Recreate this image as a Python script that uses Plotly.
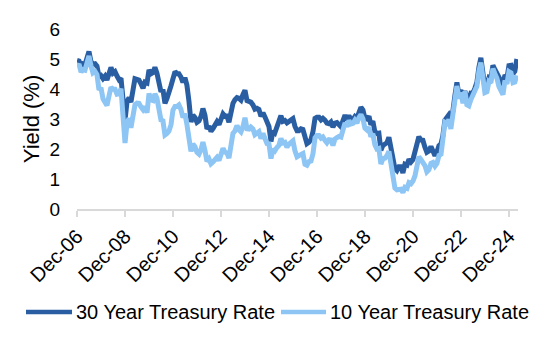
import plotly.graph_objects as go
import pandas as pd

# Monthly values, Dec 2006 .. Apr 2025
start = "2006-12-01"
y30 = [
    4.95,
    4.93, 4.75, 4.84, 4.81, 5.01, 5.25, 4.92, 4.83, 4.84, 4.76, 4.41, 4.45,   # 2007
    4.35, 4.43, 4.30, 4.49, 4.72, 4.53, 4.58, 4.43, 4.31, 4.36, 3.45, 2.95,   # 2008
    3.59, 3.71, 3.56, 4.05, 4.34, 4.32, 4.30, 4.17, 4.03, 4.23, 4.20, 4.64,   # 2009
    4.51, 4.55, 4.72, 4.53, 4.22, 3.91, 3.99, 3.52, 3.69, 3.99, 4.11, 4.34,   # 2010
    4.58, 4.51, 4.51, 4.40, 4.22, 4.38, 4.13, 3.60, 2.90, 3.13, 3.05, 2.89,   # 2011
    2.94, 3.09, 3.35, 3.12, 2.67, 2.76, 2.59, 2.68, 2.82, 2.91, 2.81, 2.95,   # 2012
    3.17, 3.09, 3.10, 2.89, 3.31, 3.52, 3.64, 3.71, 3.69, 3.63, 3.82, 3.96,   # 2013
    3.61, 3.59, 3.56, 3.47, 3.33, 3.36, 3.32, 3.09, 3.21, 3.07, 2.89, 2.75,   # 2014
    2.25, 2.60, 2.54, 2.75, 2.88, 3.11, 2.92, 2.95, 2.87, 2.93, 3.00, 3.01,   # 2015
    2.75, 2.61, 2.61, 2.67, 2.65, 2.30, 2.18, 2.23, 2.32, 2.58, 3.02, 3.06,   # 2016
    3.06, 2.97, 3.02, 2.96, 2.86, 2.84, 2.90, 2.73, 2.86, 2.88, 2.83, 2.74,   # 2017
    2.95, 3.13, 2.97, 3.11, 3.00, 2.98, 3.08, 3.02, 3.21, 3.39, 3.30, 3.02,   # 2018
    3.00, 3.09, 2.81, 2.93, 2.58, 2.52, 2.53, 1.96, 2.12, 2.18, 2.21, 2.39,   # 2019
    1.99, 1.65, 1.35, 1.28, 1.41, 1.41, 1.20, 1.49, 1.46, 1.66, 1.57, 1.65,   # 2020
    1.87, 2.17, 2.41, 2.30, 2.29, 2.06, 1.89, 1.93, 2.08, 1.93, 1.78, 1.90,   # 2021
    2.11, 2.17, 2.44, 2.96, 3.07, 3.14, 3.01, 3.27, 3.79, 4.22, 3.80, 3.97,   # 2022
    3.65, 3.93, 3.67, 3.68, 3.86, 3.85, 4.02, 4.22, 4.73, 5.04, 4.54, 4.03,   # 2023
    4.17, 4.38, 4.34, 4.79, 4.65, 4.51, 4.36, 4.20, 4.14, 4.47, 4.36, 4.78,   # 2024
    4.79, 4.51, 4.59, 5.00,                                                   # 2025
]
y10 = [
    4.75,
    4.83, 4.56, 4.65, 4.63, 4.89, 5.10, 4.78, 4.54, 4.59, 4.48, 3.97, 4.04,   # 2007
    3.67, 3.53, 3.45, 3.77, 4.06, 3.99, 3.99, 3.83, 3.85, 4.01, 2.93, 2.20,   # 2008
    2.87, 3.02, 2.71, 3.16, 3.47, 3.53, 3.52, 3.40, 3.31, 3.41, 3.21, 3.85,   # 2009
    3.63, 3.61, 3.84, 3.69, 3.31, 2.97, 2.94, 2.47, 2.52, 2.60, 2.81, 3.30,   # 2010
    3.42, 3.42, 3.47, 3.32, 3.05, 3.18, 2.82, 2.23, 1.92, 2.17, 2.08, 1.89,   # 2011
    1.83, 1.98, 2.23, 1.95, 1.59, 1.67, 1.51, 1.57, 1.65, 1.72, 1.62, 1.78,   # 2012
    2.02, 1.89, 1.87, 1.70, 2.16, 2.52, 2.60, 2.78, 2.64, 2.57, 2.75, 3.04,   # 2013
    2.67, 2.66, 2.73, 2.67, 2.48, 2.53, 2.58, 2.35, 2.52, 2.35, 2.18, 2.17,   # 2014
    1.68, 2.00, 1.94, 2.05, 2.12, 2.35, 2.20, 2.22, 2.06, 2.16, 2.21, 2.27,   # 2015
    1.94, 1.74, 1.78, 1.83, 1.85, 1.49, 1.46, 1.58, 1.60, 1.84, 2.37, 2.45,   # 2016
    2.45, 2.36, 2.40, 2.29, 2.21, 2.31, 2.30, 2.12, 2.33, 2.38, 2.42, 2.40,   # 2017
    2.72, 2.87, 2.74, 2.95, 2.83, 2.85, 2.96, 2.86, 3.05, 3.15, 3.01, 2.69,   # 2018
    2.63, 2.73, 2.41, 2.51, 2.14, 2.00, 2.02, 1.50, 1.68, 1.69, 1.78, 1.92,   # 2019
    1.51, 1.13, 0.70, 0.64, 0.65, 0.66, 0.55, 0.72, 0.69, 0.88, 0.84, 0.93,   # 2020
    1.11, 1.44, 1.74, 1.65, 1.58, 1.45, 1.24, 1.31, 1.52, 1.55, 1.43, 1.52,   # 2021
    1.79, 1.83, 2.32, 2.89, 2.85, 2.98, 2.67, 3.15, 3.83, 4.10, 3.68, 3.88,   # 2022
    3.52, 3.92, 3.48, 3.44, 3.64, 3.81, 3.97, 4.09, 4.59, 4.88, 4.37, 3.88,   # 2023
    3.91, 4.25, 4.20, 4.68, 4.51, 4.36, 4.09, 3.91, 3.81, 4.28, 4.17, 4.58,   # 2024
    4.54, 4.21, 4.23, 4.45,                                                   # 2025
]
dates = pd.date_range(start, periods=len(y30), freq="MS")

tick_vals = ["2006-12-01", "2008-12-01", "2010-12-01", "2012-12-01", "2014-12-01",
             "2016-12-01", "2018-12-01", "2020-12-01", "2022-12-01", "2024-12-01"]
tick_text = ["Dec-06", "Dec-08", "Dec-10", "Dec-12", "Dec-14",
             "Dec-16", "Dec-18", "Dec-20", "Dec-22", "Dec-24"]
series_names = ["30 Year Treasury Rate", "10 Year Treasury Rate"]
colors = ["#2A5EA3", "#8DC5F4"]

FONT = "Liberation Sans, Arial, sans-serif"
L, R, T, B = 77, 518, 29, 209
W, H = R - L, B - T

fig = go.Figure()
fig.add_trace(go.Scatter(x=dates, y=y30, mode="lines", name=series_names[0],
                         line=dict(color=colors[0], width=5), showlegend=False))
fig.add_trace(go.Scatter(x=dates, y=y10, mode="lines", name=series_names[1],
                         line=dict(color=colors[1], width=5), showlegend=False))

# manual legend
leg = [(26, 72, 74), (281, 326, 328)]
ly = 312
for (x0, x1, xt), name, c in zip(leg, series_names, colors):
    fig.add_shape(type="line", xref="paper", yref="paper",
                  x0=(x0 - L) / W, x1=(x1 - L) / W,
                  y0=(B - ly) / H, y1=(B - ly) / H,
                  line=dict(color=c, width=4.5))
    fig.add_annotation(xref="paper", yref="paper", x=(xt - L) / W, y=(B - ly) / H,
                       xanchor="left", yanchor="middle", text=name, showarrow=False,
                       font=dict(family=FONT, size=20, color="#000000"))

fig.update_layout(
    width=555, height=342,
    margin=dict(l=L, r=555 - R, t=T, b=342 - B),
    paper_bgcolor="white", plot_bgcolor="white",
    font=dict(family=FONT, size=18, color="#000000"),
    xaxis=dict(range=["2006-12-01", "2025-04-18"], tickvals=tick_vals, ticktext=tick_text,
               tickangle=-45, showgrid=False, showline=True, linecolor="#D9D9D9", linewidth=1.5,
               ticks="outside", tickcolor="#D9D9D9", ticklen=6, tickwidth=1.5,
               tickfont=dict(size=20), zeroline=False),
    yaxis=dict(range=[0, 6], dtick=1, showgrid=False, showline=False, zeroline=False,
               ticks="outside", ticklen=12, tickcolor="rgba(0,0,0,0)",
               tickfont=dict(size=19),
               title=dict(text="Yield (%)", font=dict(size=22), standoff=3)),
)

fig.write_html("out.html")
